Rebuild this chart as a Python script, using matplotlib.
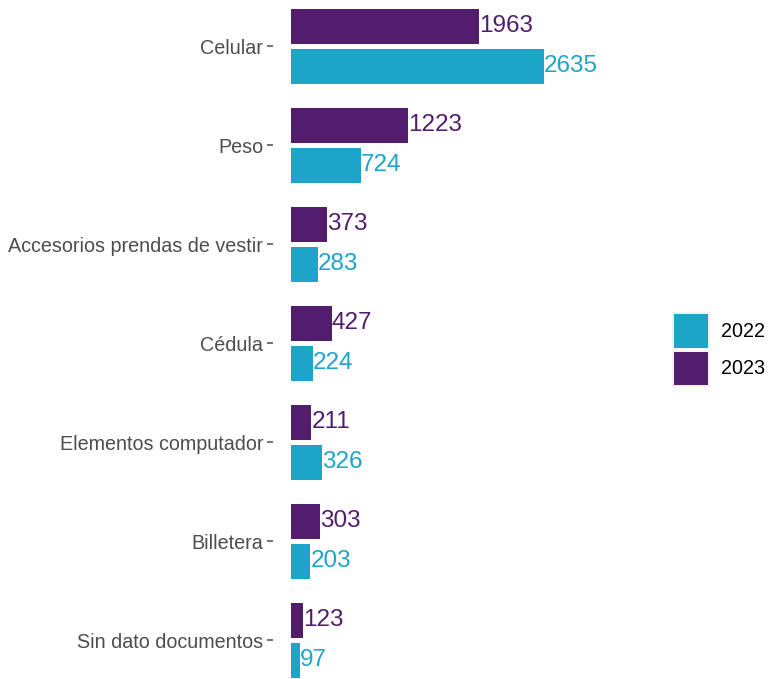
import matplotlib
matplotlib.use("Agg")
import matplotlib.pyplot as plt
from matplotlib.patches import Rectangle
import numpy as np

plt.rcParams["font.family"] = ["Liberation Sans", "DejaVu Sans"]

categories = ["Celular", "Peso", "Accesorios prendas de vestir", "Cédula",
              "Elementos computador", "Billetera", "Sin dato documentos"]
values_2023 = [1963, 1223, 373, 427, 211, 303, 123]
values_2022 = [2635, 724, 283, 224, 326, 203, 97]
years = ["2022", "2023"]

COL_2022 = "#1CA5C9"
COL_2023 = "#531D6E"

W, H = 768, 679
fig = plt.figure(figsize=(W / 100, H / 100), dpi=100)

# panel in pixel coords
px_left, px_right = 273, 650
ax = fig.add_axes([px_left / W, 0, (px_right - px_left) / W, 1])

# scale: 0 -> x=291px, 2635 -> x=544px
ppu = (544 - 291) / 2635.0
ax.set_xlim(-(291 - px_left) / ppu, (px_right - 291) / ppu)

# y: group centres 99px apart, first at 46.3px from top
step = 99.0
top_c = 46.3
ax.set_ylim((H - top_c) / step, -top_c / step)

pos = np.arange(len(categories))
bh = 34.7 / step
off = 20.0 / step

ax.barh(pos - off, values_2023, height=bh, color=COL_2023, left=0)
ax.barh(pos + off, values_2022, height=bh, color=COL_2022, left=0)

for i in range(len(categories)):
    ax.text(values_2023[i], pos[i] - off, str(values_2023[i]), color=COL_2023,
            fontsize=17.5, va="center", ha="left")
    ax.text(values_2022[i], pos[i] + off, str(values_2022[i]), color=COL_2022,
            fontsize=17.5, va="center", ha="left")

ax.set_yticks(pos)
ax.set_yticklabels(categories, fontsize=14.2, color="#4D4D4D")
ax.tick_params(axis="y", length=4, width=1.1, color="#4D4D4D", pad=3)
ax.set_xticks([])
for s in ax.spines.values():
    s.set_visible(False)

# legend drawn manually in figure pixel coords
for i, (yr, col) in enumerate([("2022", COL_2022), ("2023", COL_2023)]):
    y0 = 312 + i * 37.5
    fig.patches.append(Rectangle((672 / W, 1 - (y0 + 37.5) / H), 38 / W, 37.5 / H,
                                 transform=fig.transFigure, facecolor="#F2F2F2",
                                 edgecolor="none"))
    fig.patches.append(Rectangle((674 / W, 1 - (y0 + 35.5) / H), 34 / W, 33.5 / H,
                                 transform=fig.transFigure, facecolor=col,
                                 edgecolor="none"))
    fig.text(721 / W, 1 - (y0 + 19) / H, yr, fontsize=14.2, color="black",
             va="center", ha="left")

fig.savefig("out.png", dpi=100, facecolor="white")
